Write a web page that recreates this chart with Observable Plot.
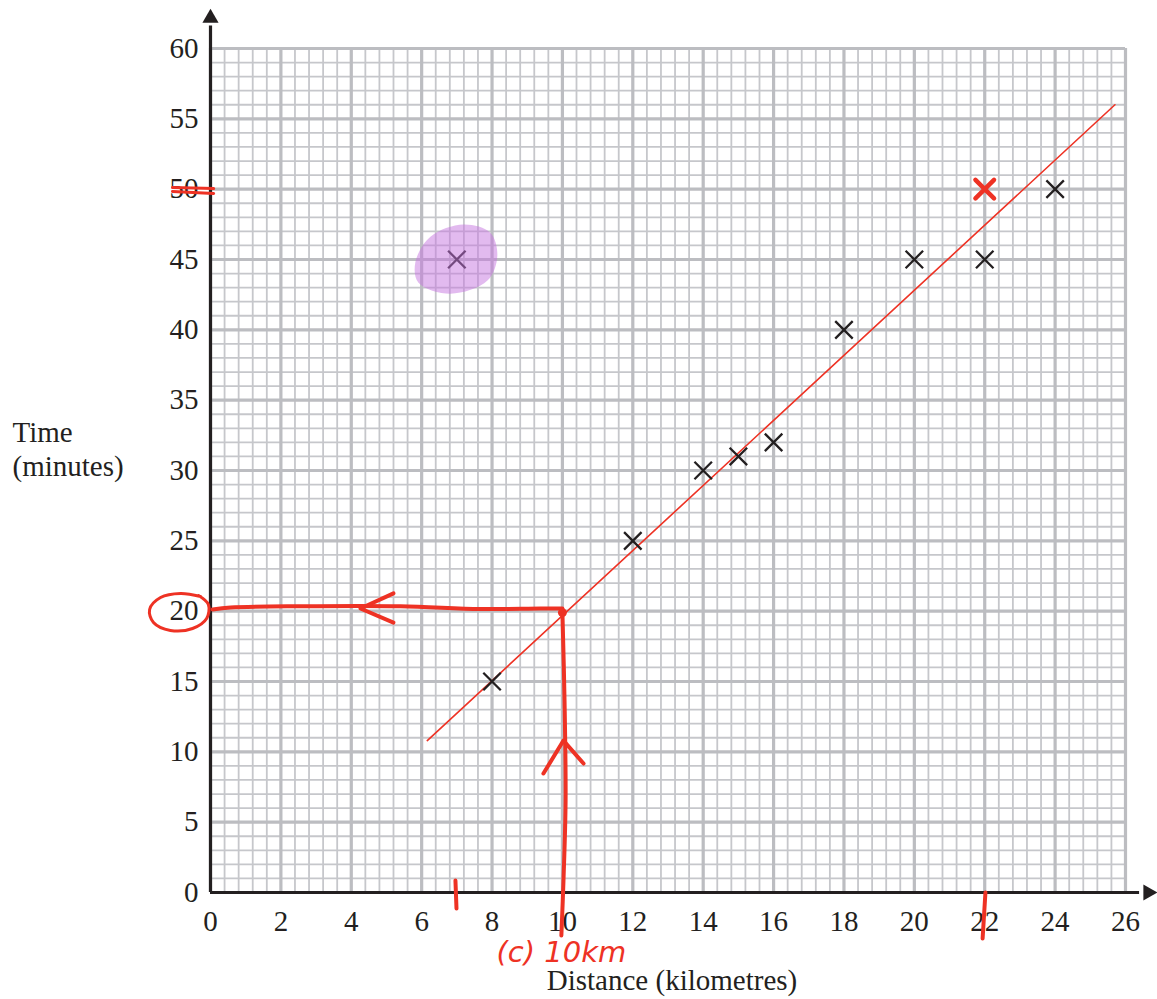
<!DOCTYPE html>
<html>
<head>
<meta charset="utf-8">
<script src="https://cdn.jsdelivr.net/npm/d3@7"></script>
<script src="https://cdn.jsdelivr.net/npm/@observablehq/plot@0.6"></script>
<style>
  html, body { margin: 0; padding: 0; background: #fff; }
  #chart svg { display: block; }
</style>
</head>
<body>
<div id="chart"></div>
<script>
// ---- data ----
const distance = [7, 8, 12, 14, 15, 16, 18, 20, 22, 24];
const time     = [45, 15, 25, 30, 31, 32, 40, 45, 45, 50];

const xTicks = [0, 2, 4, 6, 8, 10, 12, 14, 16, 18, 20, 22, 24, 26];
const yTicks = [0, 5, 10, 15, 20, 25, 30, 35, 40, 45, 50, 55, 60];

// line of best fit (hand drawn)
const fitX = [6.16, 25.7];
const fitY = [10.8, 56.0];

// red cross added by marker
const redCrossX = [22];
const redCrossY = [50];

// purple highlight blob around the outlier (7, 45)
const blobX = [7.19, 7.95, 8.15, 7.87, 6.82, 5.91, 5.82, 6.25];
const blobY = [47.48, 46.9, 45.27, 43.5, 42.57, 43.35, 44.78, 46.62];

// red reading lines for part (c)
const hLineX = [0.06, 0.57, 2.56, 5.4, 7.67, 9.38, 10.0];
const hLineY = [20.12, 20.26, 20.35, 20.35, 20.15, 20.19, 20.19];
const hHeadX = [5.2, 4.26, 5.2];
const hHeadY = [21.26, 20.19, 19.19];
const vLineX = [10.0, 10.06, 10.09, 10.03, 9.97];
const vLineY = [19.9, 13.65, 6.54, 0.85, -3.06];
const vHeadX = [9.46, 10.03, 10.6];
const vHeadY = [8.46, 10.8, 9.17];
const ringX = [-0.28, -0.85, -1.42, -1.73, -1.62, -1.14, -0.51, -0.11, -0.06, -0.34];
const ringY = [21.04, 21.26, 20.97, 20.12, 19.19, 18.63, 18.77, 19.48, 20.47, 21.11];
const strikeAX = [-1.08, 0.09], strikeAY = [50.12, 50.04];
const strikeBX = [-1.08, 0.09], strikeBY = [49.84, 49.70];
const tick7X = [6.96, 6.99], tick7Y = [0.85, -1.14];
const tick22X = [22.02, 21.94], tick22Y = [0.0, -3.27];
const noteText = ["(c) 10km"];
const noteX = [9.97], noteY = [-4.3];

// axes extents with arrowheads
const yAxisTop = 61.6, yArrowY = 62.17;
const xAxisEnd = 26.4, xArrowX = 26.64;

// grid
const xMinor = d3.range(0, 66).map(i => i * 0.4);
const xMajor = xTicks;
const yMinor = d3.range(0, 61);
const yMajor = yTicks;

const ink = "#231f20";
const red = "#ee3224";

const pts = distance.map((d, i) => ({x: d, y: time[i]}));
const zip = (xs, ys) => xs.map((x, i) => ({x, y: ys[i]}));

const plot = Plot.plot({
  width: 1157,
  height: 999,
  marginLeft: 210,
  marginRight: 32,
  marginTop: 48,
  marginBottom: 107,
  x: {domain: [0, 26]},
  y: {domain: [0, 60]},
  style: {fontFamily: "'Liberation Serif', 'Times New Roman', serif", fontSize: "29px", color: ink, background: "#fff"},
  marks: [
    Plot.ruleX(xMinor, {stroke: "#c6c7cb", strokeWidth: 1.8}),
    Plot.ruleY(yMinor, {stroke: "#c6c7cb", strokeWidth: 1.8}),
    Plot.ruleX(xMajor, {stroke: "#bcbdc1", strokeWidth: 3.2}),
    Plot.ruleY(yMajor, {stroke: "#bcbdc1", strokeWidth: 3.2}),
    // axes
    Plot.ruleX([0], {y1: 0, y2: yAxisTop, stroke: ink, strokeWidth: 3.2}),
    Plot.ruleY([0], {x1: 0, x2: xAxisEnd, stroke: ink, strokeWidth: 3.2}),
    Plot.dot([0], {x: () => 0, y: () => yArrowY, symbol: "triangle", r: 6, fill: ink, stroke: null}),
    Plot.dot([0], {x: () => xArrowX, y: () => 0, symbol: "triangle", r: 6, fill: ink, stroke: null, rotate: 90}),
    Plot.axisX({ticks: xTicks, tickSize: 0, tickPadding: 18, label: null, fill: ink}),
    Plot.axisY({ticks: yTicks, tickSize: 0, tickPadding: 12, label: null, fill: ink}),
    // line of best fit
    Plot.line(zip(fitX, fitY), {x: "x", y: "y", stroke: red, strokeWidth: 1.6}),
    // data crosses
    Plot.dot(pts, {x: "x", y: "y", symbol: "times", r: 8, stroke: ink, strokeWidth: 2.3}),
    Plot.dot(zip(redCrossX, redCrossY), {x: "x", y: "y", symbol: "times", r: 8.5, stroke: red, strokeWidth: 4.5, strokeLinecap: "round"}),
    // purple highlight
    Plot.line(zip(blobX, blobY), {x: "x", y: "y", curve: "catmull-rom-closed", fill: "#c576e0", fillOpacity: 0.5, stroke: null}),
    // red reading lines
    Plot.line(zip(hLineX, hLineY), {x: "x", y: "y", curve: "catmull-rom", stroke: red, strokeWidth: 4, strokeLinecap: "round"}),
    Plot.line(zip(hHeadX, hHeadY), {x: "x", y: "y", stroke: red, strokeWidth: 4, strokeLinecap: "round", strokeLinejoin: "round"}),
    Plot.line(zip(vLineX, vLineY), {x: "x", y: "y", curve: "catmull-rom", stroke: red, strokeWidth: 4, strokeLinecap: "round"}),
    Plot.line(zip(vHeadX, vHeadY), {x: "x", y: "y", stroke: red, strokeWidth: 4, strokeLinecap: "round", strokeLinejoin: "round"}),
    Plot.dot(zip([10.0], [19.9]), {x: "x", y: "y", r: 4.5, fill: red}),
    Plot.line(zip(ringX, ringY), {x: "x", y: "y", curve: "catmull-rom", stroke: red, strokeWidth: 3, strokeLinecap: "round"}),
    Plot.line(zip(strikeAX, strikeAY), {x: "x", y: "y", stroke: red, strokeWidth: 3, strokeLinecap: "round"}),
    Plot.line(zip(strikeBX, strikeBY), {x: "x", y: "y", stroke: red, strokeWidth: 3, strokeLinecap: "round"}),
    Plot.line(zip(tick7X, tick7Y), {x: "x", y: "y", stroke: red, strokeWidth: 4, strokeLinecap: "round"}),
    Plot.line(zip(tick22X, tick22Y), {x: "x", y: "y", stroke: red, strokeWidth: 4, strokeLinecap: "round"}),
    Plot.text(noteText, {x: () => noteX[0], y: () => noteY[0], text: d => d, fill: red, fontSize: 29,
      fontFamily: "'DejaVu Sans', sans-serif", fontStyle: "italic", fontWeight: 300, lineAnchor: "middle"}),
    // axis titles
    Plot.text(["Time\n(minutes)"], {frameAnchor: "left", dx: -198, dy: -22, textAnchor: "start", lineAnchor: "middle",
      fontSize: 29, lineHeight: 1.17, fill: ink}),
    Plot.text(["Distance (kilometres)"], {frameAnchor: "bottom", dx: 4, dy: 88, lineAnchor: "middle", fontSize: 29, fill: ink})
  ]
});
document.getElementById("chart").appendChild(plot);
</script>
</body>
</html>
